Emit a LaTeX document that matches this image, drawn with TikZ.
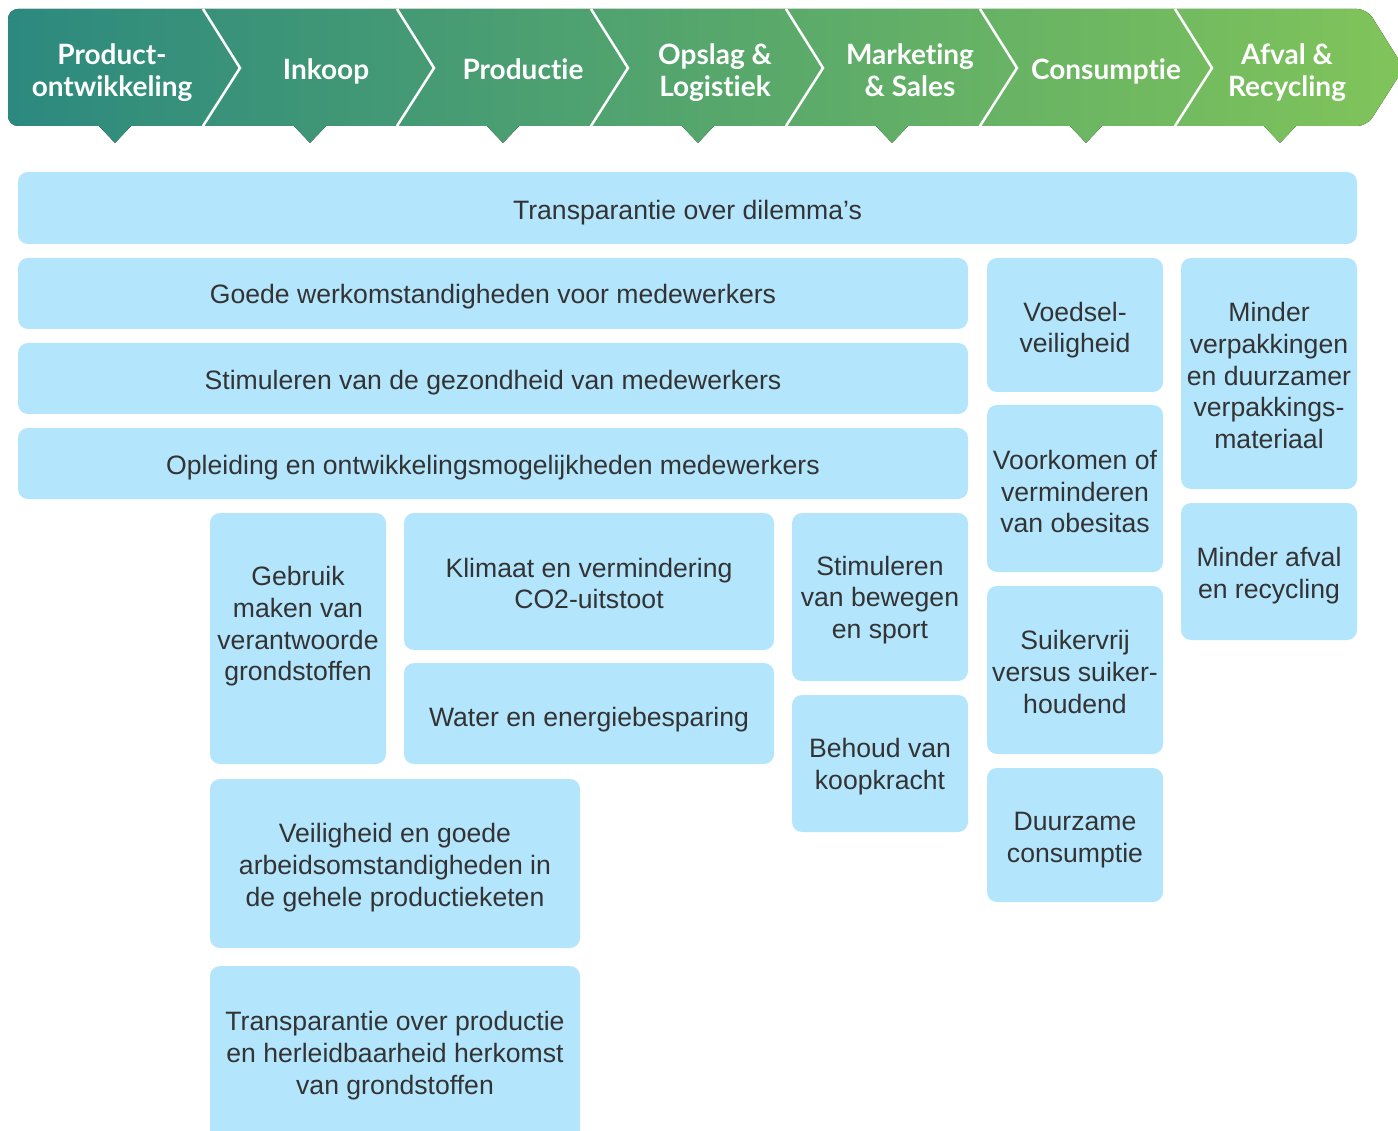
\documentclass[tikz,border=0pt]{standalone}
\usepackage{fontspec}
\setmainfont{Liberation Sans}
\newfontfamily\lblfont{Lato}[Ligatures=CommonOff]
\definecolor{tealc}{HTML}{2C897F}
\definecolor{greenc}{HTML}{80C45A}
\definecolor{boxblue}{HTML}{B3E5FC}
\definecolor{txt}{HTML}{333333}
% #1 name, #2 centre, #3 width, #4 height, #5 text shift, #6 text
\newcommand\cbox[6]{%
  \node[box, minimum width=#3pt, minimum height=#4pt] (#1) at (#2) {};
  \node[boxtext] (#1t) at ([yshift=-#5pt]#1.center) {#6};}
\begin{document}
\begin{tikzpicture}[x=1pt,y=-1pt,
  box/.style={fill=boxblue, rounded corners=10pt, inner sep=0pt},
  boxtext/.style={text=txt, align=center, font=\fontsize{26.6}{31.7}\selectfont, inner sep=0pt},
  lbl/.style={text=white, align=center, font=\lblfont\bfseries\fontsize{28}{32}\selectfont, inner sep=0pt},
  sep/.style={draw=white, line width=2.5pt}]
\useasboundingbox (0,0) rectangle (1398,1131);
\begin{scope}
\clip (0,0) rectangle (1398,1131);
% chevron bar with pointers
\fill[left color=tealc, right color=greenc]
  {[rounded corners=10pt] (8,9) -- (1367,9) -- (1404,68) -- (1367,126) -- (8,126) -- cycle}
  (98,125) -- (132,125) -- (115,143) -- cycle
  (293,125) -- (327,125) -- (310,143) -- cycle
  (486,125) -- (520,125) -- (503,143) -- cycle
  (681,125) -- (715,125) -- (698,143) -- cycle
  (875,125) -- (909,125) -- (892,143) -- cycle
  (1069,125) -- (1103,125) -- (1086,143) -- cycle
  (1263,125) -- (1297,125) -- (1280,143) -- cycle;
\coordinate (s1t) at (203,9); \coordinate (s1m) at (240,68); \coordinate (s1b) at (203,126);
\coordinate (s2t) at (397,9); \coordinate (s2m) at (434,68); \coordinate (s2b) at (397,126);
\coordinate (s3t) at (591,9); \coordinate (s3m) at (628,68); \coordinate (s3b) at (591,126);
\coordinate (s4t) at (786,9); \coordinate (s4m) at (823,68); \coordinate (s4b) at (786,126);
\coordinate (s5t) at (980,9); \coordinate (s5m) at (1017,68); \coordinate (s5b) at (980,126);
\coordinate (s6t) at (1175,9); \coordinate (s6m) at (1212,68); \coordinate (s6b) at (1175,126);
\draw[sep] (s1t) -- (s1m) -- (s1b);
\draw[sep] (s2t) -- (s2m) -- (s2b);
\draw[sep] (s3t) -- (s3m) -- (s3b);
\draw[sep] (s4t) -- (s4m) -- (s4b);
\draw[sep] (s5t) -- (s5m) -- (s5b);
\draw[sep] (s6t) -- (s6m) -- (s6b);
% labels
\node[lbl] (l1) at (112,73) {Product-\\ontwikkeling};
\node[lbl, anchor=base] (l2) at (326,80) {Inkoop};
\node[lbl, anchor=base] (l3) at (523,80) {Productie};
\node[lbl] (l4) at (715,73) {Opslag \&\\Logistiek};
\node[lbl] (l5) at (910,70) {Marketing\\\& Sales};
\node[lbl, anchor=base] (l6) at (1106,80) {Consumptie};
\node[lbl] (l7) at (1287,73) {Afval \&\\Recycling};
% boxes
\cbox{trans}{687.5,208}{1339}{72}{5}{Transparantie over dilemma’s}
\cbox{goede}{493,293.5}{950}{71}{3.5}{Goede werkomstandigheden voor medewerkers}
\cbox{stim}{493,378.5}{950}{71}{4}{Stimuleren van de gezondheid van medewerkers}
\cbox{opl}{493,463.5}{950}{71}{4}{Opleiding en ontwikkelingsmogelijkheden medewerkers}
\cbox{voed}{1075,325}{176}{134}{5}{Voedsel-\\veiligheid}
\cbox{voork}{1075,488.5}{176}{167}{3}{Voorkomen of\\verminderen\\van obesitas}
\cbox{suik}{1075,670}{176}{168}{2}{Suikervrij\\versus suiker-\\houdend}
\cbox{duurz}{1075,835}{176}{134}{5}{Duurzame\\consumptie}
\cbox{verp}{1269,373.5}{176}{231}{2}{Minder\\verpakkingen\\en duurzamer\\verpakkings-\\materiaal}
\cbox{afval}{1269,571.5}{176}{137}{4}{Minder afval\\en recycling}
\cbox{gebr}{298,638.5}{176}{251}{-12}{Gebruik\\maken van\\verantwoorde\\grondstoffen}
\cbox{klim}{589,581.5}{370}{137}{2}{Klimaat en vermindering\\CO2-uitstoot}
\cbox{water}{589,713.5}{370}{101}{6}{Water en energiebesparing}
\cbox{bew}{880,597}{176}{168}{3}{Stimuleren\\van bewegen\\en sport}
\cbox{koop}{880,763.5}{176}{137}{3}{Behoud van\\koopkracht}
\cbox{veil}{395,863.5}{370}{169}{4}{Veiligheid en goede\\arbeidsomstandigheden in\\de gehele productieketen}
\cbox{tprod}{395,1053.5}{370}{175}{2}{Transparantie over productie\\en herleidbaarheid herkomst\\van grondstoffen}
\end{scope}
\end{tikzpicture}
\end{document}
